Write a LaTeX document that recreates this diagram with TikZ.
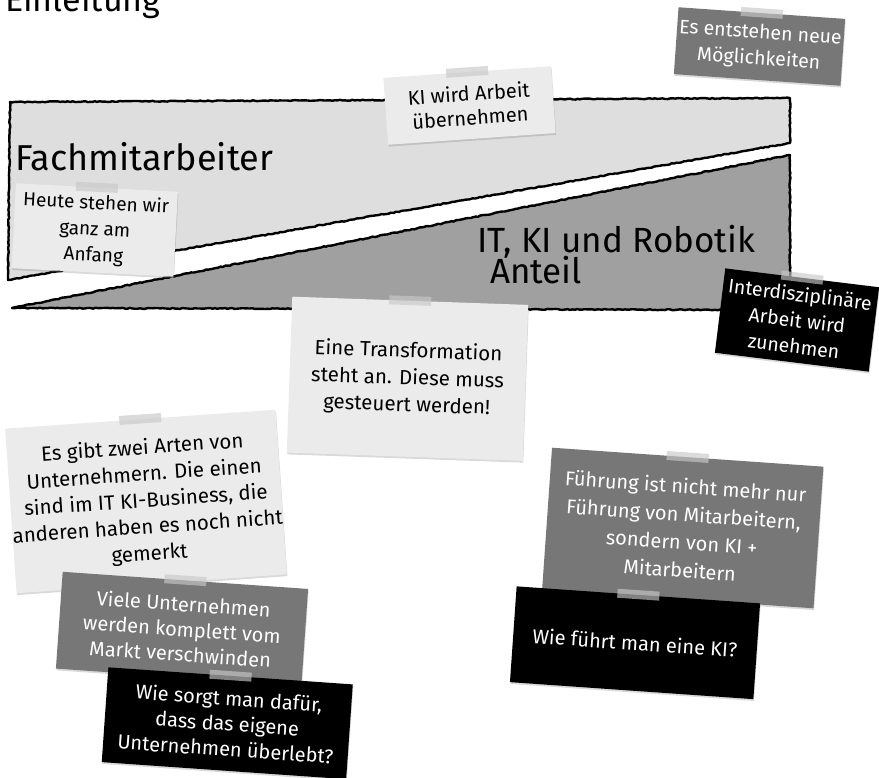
\documentclass[tikz,border=0pt]{standalone}
\usepackage{fontspec}
\setmainfont{Fira Sans}
\usetikzlibrary{shadows,decorations.pathmorphing}
\definecolor{bandlight}{HTML}{DEDEDE}
\definecolor{banddark}{HTML}{A0A0A0}
\definecolor{notelight}{HTML}{EBEBEB}
\definecolor{notegray}{HTML}{777777}
\definecolor{tapecol}{HTML}{C8C8C8}
\begin{document}
\begin{tikzpicture}[x=1pt,y=-1pt,
  band/.style={draw=black, line width=2.4pt, line join=round, decorate,
    decoration={random steps,segment length=2.5pt,amplitude=0.5pt}},
  note/.style={inner sep=0pt, align=center,
    drop shadow={shadow xshift=0.6pt, shadow yshift=-1.8pt, opacity=0.3}},
  lightnote/.style={note, fill=notelight, text=black},
  graynote/.style={note, fill=notegray, text=white},
  blacknote/.style={note, fill=black, text=white},
  tapebox/.style={fill=tapecol, opacity=0.65, minimum width=42pt, minimum height=9pt, inner sep=0pt},
  headtext/.style={anchor=base west, inner sep=0pt},
  nf/.style={font=\fontsize{19}{26}\selectfont}
]
\useasboundingbox (0,0) rectangle (879,778);

% title
\node[headtext, font=\fontsize{34}{40}\selectfont] (title) at (5,12) {Einleitung};

% bands
\path[band, fill=bandlight] (10,102) -- (790,98) -- (790,143) -- (8,280) -- cycle;
\path[band, fill=banddark] (12,308) -- (790,155) -- (790,310) -- cycle;

\node[headtext, font=\fontsize{36}{40}\selectfont] (fach) at (15,171) {Fachmitarbeiter};
\node[headtext, font=\fontsize{35}{38}\selectfont] (itki) at (477,253) {IT, KI und Robotik};
\node[headtext, font=\fontsize{35}{38}\selectfont] (anteil) at (490,284) {Anteil};

% notes
\node[lightnote, font=\fontsize{20}{24}\selectfont, minimum width=168pt, minimum height=67pt, rotate=4]
  (ki) at (469.5,105.5) {KI wird Arbeit\\übernehmen};
\node[tapebox, rotate=4] (kitape) at (ki.north) {};

\node[graynote, font=\fontsize{19.5}{26}\selectfont, minimum width=167pt, minimum height=67pt, rotate=-4]
  (moeg) at (759.5,46.5) {Es entstehen neue\\Möglichkeiten};
\node[tapebox, rotate=-4] (moegtape) at (moeg.north) {};

\node[lightnote, nf, minimum width=162pt, minimum height=85pt, rotate=-3]
  (heute) at (94.75,230) {Heute stehen wir\\ganz am\\Anfang};
\node[tapebox, rotate=-3] (heutetape) at (heute.north) {};

\node[blacknote, font=\fontsize{19.5}{26}\selectfont, minimum width=155pt, minimum height=85pt, rotate=-7]
  (inter) at (797,320) {Interdisziplinäre\\Arbeit wird\\zunehmen};
\node[tapebox, rotate=-7] (intertape) at (inter.north) {};

\node[lightnote, font=\fontsize{20.5}{27}\selectfont, minimum width=236pt, minimum height=156pt, rotate=-2]
  (trans) at (407.5,378.75) {Eine Transformation\\steht an. Diese muss\\gesteuert werden!};
\node[tapebox, rotate=-2] (transtape) at (trans.north) {};

\node[lightnote, font=\fontsize{20.5}{26.5}\selectfont, minimum width=266pt, minimum height=165pt, rotate=4]
  (zwei) at (146,501.5) {Es gibt zwei Arten von\\Unternehmern. Die einen\\sind im IT KI-Business, die\\anderen haben es noch nicht\\gemerkt};
\node[tapebox, rotate=4] (zweitape) at (zwei.north) {};

\node[graynote, font=\fontsize{20}{25}\selectfont, minimum width=246pt, minimum height=97pt, rotate=-4]
  (viele) at (182,628.75) {Viele Unternehmen\\werden komplett vom\\Markt verschwinden};
\node[tapebox, rotate=-4] (vieletape) at (viele.north) {};

\node[blacknote, font=\fontsize{20}{25.5}\selectfont, minimum width=245pt, minimum height=95pt, rotate=-4]
  (sorgt) at (227.25,723.25) {Wie sorgt man dafür,\\dass das eigene\\Unternehmen überlebt?};
\node[tapebox, rotate=-4] (sorgttape) at (sorgt.north) {};

\node[graynote, font=\fontsize{20}{28}\selectfont, minimum width=272pt, minimum height=142pt, rotate=-4]
  (fuehr) at (682.75,528) {Führung ist nicht mehr nur\\Führung von Mitarbeitern,\\sondern von KI +\\Mitarbeitern};
\node[tapebox, rotate=-4] (fuehrtape) at (fuehr.north) {};

\node[blacknote, font=\fontsize{20}{26}\selectfont, minimum width=244pt, minimum height=96pt, rotate=-4]
  (wiekI) at (635,642.75) {Wie führt man eine KI?};
\node[tapebox, rotate=-4] (wiekitape) at (wiekI.north) {};
\end{tikzpicture}
\end{document}
